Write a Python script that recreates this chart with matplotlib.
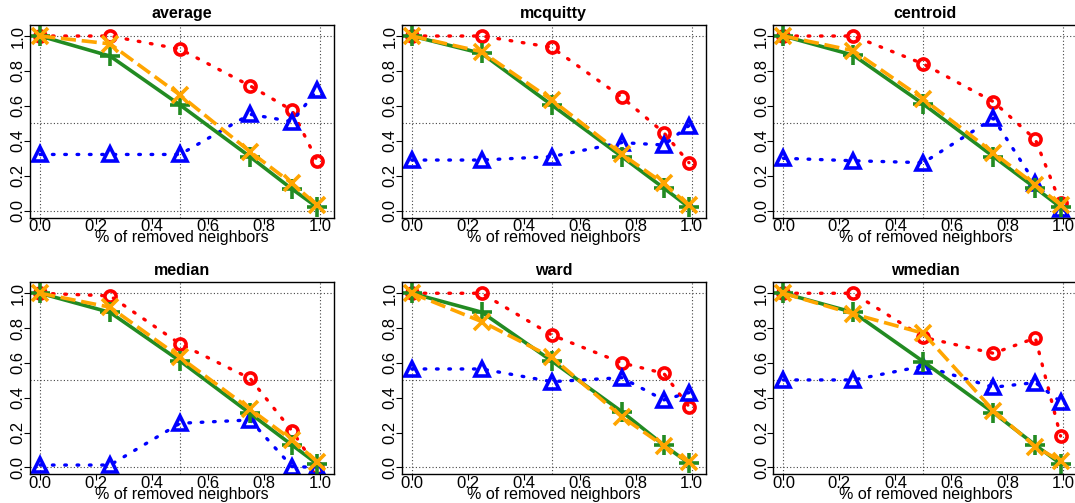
import matplotlib.pyplot as plt
import numpy as np

plt.rcParams['font.family'] = ['Liberation Sans', 'DejaVu Sans']

# fraction of removed neighbors
removed = [0.0, 0.25, 0.5, 0.75, 0.9, 0.99]

methods = ["average", "mcquitty", "centroid", "median", "ward", "wmedian"]

red_vals = {
    "average":  [1.0, 1.0, 0.925, 0.715, 0.575, 0.285],
    "mcquitty": [1.0, 1.0, 0.935, 0.65, 0.447, 0.275],
    "centroid": [1.0, 1.0, 0.84, 0.624, 0.408, 0.042],
    "median":   [1.0, 0.985, 0.709, 0.511, 0.209, -0.005],
    "ward":     [1.0, 1.0, 0.76, 0.60, 0.54, 0.349],
    "wmedian":  [1.0, 1.0, 0.747, 0.655, 0.743, 0.18],
}
blue_vals = {
    "average":  [0.322, 0.322, 0.322, 0.552, 0.51, 0.69],
    "mcquitty": [0.29, 0.29, 0.31, 0.39, 0.376, 0.487],
    "centroid": [0.30, 0.286, 0.275, 0.529, 0.156, 0.008],
    "median":   [0.013, 0.013, 0.253, 0.272, 0.004, 0.0],
    "ward":     [0.565, 0.565, 0.492, 0.515, 0.387, 0.429],
    "wmedian":  [0.502, 0.502, 0.582, 0.46, 0.487, 0.377],
}
green_vals = {
    "average":  [1.0, 0.885, 0.605, 0.309, 0.124, 0.02],
    "mcquitty": [1.0, 0.90, 0.605, 0.31, 0.13, 0.02],
    "centroid": [1.0, 0.89, 0.61, 0.31, 0.13, 0.02],
    "median":   [1.0, 0.89, 0.611, 0.31, 0.128, 0.02],
    "ward":     [1.0, 0.891, 0.611, 0.32, 0.128, 0.023],
    "wmedian":  [1.0, 0.89, 0.607, 0.314, 0.128, 0.02],
}
orange_vals = {
    "average":  [1.0, 0.955, 0.662, 0.338, 0.156, 0.032],
    "mcquitty": [1.0, 0.91, 0.634, 0.324, 0.156, 0.03],
    "centroid": [1.0, 0.916, 0.639, 0.332, 0.147, 0.035],
    "median":   [1.0, 0.92, 0.632, 0.335, 0.157, 0.033],
    "ward":     [1.0, 0.837, 0.632, 0.291, 0.123, 0.029],
    "wmedian":  [1.0, 0.881, 0.77, 0.326, 0.119, 0.035],
}

xticks = [0.0, 0.2, 0.4, 0.6, 0.8, 1.0]
yticks = [0.0, 0.2, 0.4, 0.6, 0.8, 1.0]

fig = plt.figure(figsize=(10.75, 5.03), dpi=100)

lefts = [0.0279, 0.3737, 0.7194]
rows = [(0.5672, 0.3831), (0.0571, 0.3817)]
w = 0.2828

for i, m in enumerate(methods):
    bottom, h = rows[i // 3]
    ax = fig.add_axes([lefts[i % 3], bottom, w, h])
    # dotted reference grid like R's abline(lty=3)
    for g in [0.0, 0.5, 1.0]:
        ax.axvline(g, color="#444444", lw=0.8, ls=(0, (1, 2)), zorder=0)
        ax.axhline(g, color="#444444", lw=0.8, ls=(0, (1, 2)), zorder=0)

    ax.plot(removed, red_vals[m], color="red", ls=(0, (0.5, 3.2)), lw=2.4,
            marker="o", ms=8, mew=2.6, mfc="none", dash_capstyle="round")
    ax.plot(removed, blue_vals[m], color="blue", ls=(0, (0.5, 3.2)), lw=2.4,
            marker="^", ms=10, mew=2.6, mfc="none", dash_capstyle="round")
    ax.plot(removed, green_vals[m], color="#228B22", ls="-", lw=2.6,
            marker="+", ms=14, mew=2.6)
    ax.plot(removed, orange_vals[m], color="orange", ls=(0, (4.2, 1.6)), lw=2.6,
            marker="x", ms=11, mew=2.6)

    ax.set_xlim(-0.036, 1.05)
    ax.set_ylim(-0.04, 1.063)
    ax.set_xticks(xticks)
    ax.set_xticklabels(["%.1f" % t for t in xticks])
    ax.set_yticks(yticks)
    ax.set_yticklabels(["%.1f" % t for t in yticks], rotation=90, va="center")
    ax.tick_params(axis="x", direction="out", length=4, width=0.8, pad=-3,
                   labelsize=12)
    ax.tick_params(axis="y", direction="out", length=4, width=0.8, pad=-1,
                   labelsize=12)
    ax.set_xlabel("% of removed neighbors", fontsize=11.5, labelpad=-3)
    ax.set_title(m, fontsize=11.5, fontweight="bold", pad=5)
    for s in ax.spines.values():
        s.set_linewidth(1.0)

fig.savefig("out.png", dpi=100)
